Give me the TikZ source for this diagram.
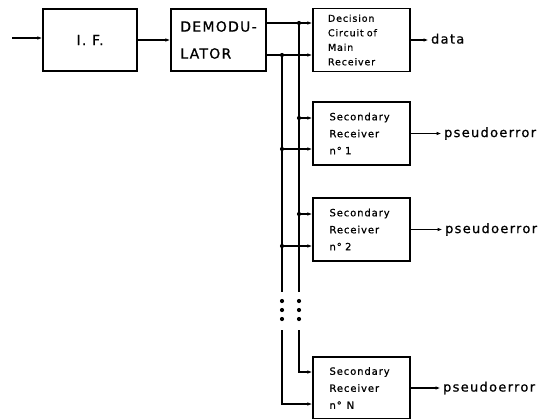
\documentclass[tikz,border=0pt]{standalone}
\usepackage{fontspec}
\setmainfont{DejaVu Sans}
\newfontfamily\boxfont[LetterSpace=9,FakeBold=0.8]{DejaVu Sans}
\newfontfamily\outfont[LetterSpace=10,FakeBold=0.8]{DejaVu Sans}
\usetikzlibrary{arrows.meta,positioning}

\begin{document}
\begin{tikzpicture}[x=1pt, y=-1pt, line width=1.1pt,
    block/.style={draw, line width=1.1pt, minimum height=62pt, inner ysep=0pt},
    rxblock/.style={block, minimum width=97pt, text width=64pt, inner xsep=16.5pt, align=left,
        font=\boxfont\fontsize{10}{17}\selectfont},
    outlabel/.style={inner sep=2pt, text height=7.1pt, text depth=0pt, font=\outfont\fontsize{13}{16}\selectfont},
    arr/.style={-{Latex[length=5pt, width=3.5pt]}},
    dot/.style={circle, fill, inner sep=0pt, minimum size=4.2pt}
]
    \useasboundingbox (0,0) rectangle (546,418);

    % Main chain
    \node[block, minimum width=94pt, font=\boxfont\fontsize{14}{27}\selectfont] (if) at (90,40) {I. F.};
    \node[block, minimum width=95pt, align=left,
        font=\boxfont\fontsize{14}{27}\selectfont] (demod) at (218.5,40) {DEMODU-\\LATOR};
    \node[block, minimum width=97pt, minimum height=63pt, text width=67pt, inner xsep=15pt, align=left,
        font=\boxfont\fontsize{9.5}{14.5}\selectfont] (dec) at (361.5,40)
        {Decision\\Circuit of\\Main\\Receiver};

    % Secondary receivers
    \node[rxblock, minimum height=63pt] (rx1) at (361.5,133.5) {Secondary\\Receiver\\n° 1};
    \node[rxblock, minimum height=63pt] (rx2) at (361.5,229.5) {Secondary\\Receiver\\n° 2};
    \node[rxblock, minimum height=62pt] (rxN) at (361.5,388) {Secondary\\Receiver\\n°\enspace N};

    % Outputs
    \node[outlabel, right=18pt of dec] (data) {data};
    \node[outlabel, right=31pt of rx1] (pe1) {pseudoerror};
    \node[outlabel, right=32pt of rx2] (pe2) {pseudoerror};
    \node[outlabel, right=30pt of rxN] (peN) {pseudoerror};
    \draw[arr] (dec) -- (data);
    \draw[arr] (rx1) -- (pe1);
    \draw[arr] (rx2) -- (pe2);
    \draw[arr] (rxN) -- (peN);

    % Input and chain arrows
    \coordinate (in) at (12,38);
    \draw[arr] (in) -- (in -| if.west);
    \draw[arr] (if) -- (demod);

    % Bus junctions (right bus and left bus)
    \coordinate (jt) at (299,23);
    \coordinate (jb) at (282,55);
    \coordinate (r1) at (299,118);
    \coordinate (r2) at (299,214);
    \coordinate (rN) at (299,372);
    \coordinate (l1) at (282,149);
    \coordinate (l2) at (282,246);
    \coordinate (lN) at (282,404);
    \coordinate (rgap) at (299,292);
    \coordinate (rgapend) at (299,330);
    \coordinate (lgap) at (282,292);
    \coordinate (lgapend) at (282,330);

    % Demodulator outputs
    \draw (jt -| demod.east) -- (jt);
    \draw[arr] (jt) -- (jt -| dec.west);
    \draw (jb -| demod.east) -- (jb);
    \draw[arr] (jb) -- (jb -| dec.west);

    % Vertical buses
    \draw (jt) -- (rgap);
    \draw (jb) -- (lgap);
    \draw[arr] (rgapend) -- (rN) -- (rN -| rxN.west);
    \draw[arr] (lgapend) -- (lN) -- (lN -| rxN.west);

    % Taps to secondary receivers
    \draw[arr] (r1) -- (r1 -| rx1.west);
    \draw[arr] (l1) -- (l1 -| rx1.west);
    \draw[arr] (r2) -- (r2 -| rx2.west);
    \draw[arr] (l2) -- (l2 -| rx2.west);

    % Junction dots
    \foreach \j in {jt,jb,r1,r2,l1,l2}
        \node[dot] at (\j) {};

    % Ellipsis dots
    \foreach \y in {301,310,319}{
        \node[dot] (rdot\y) at (299,\y) {};
        \node[dot] (ldot\y) at (282,\y) {};
    }
\end{tikzpicture}
\end{document}
